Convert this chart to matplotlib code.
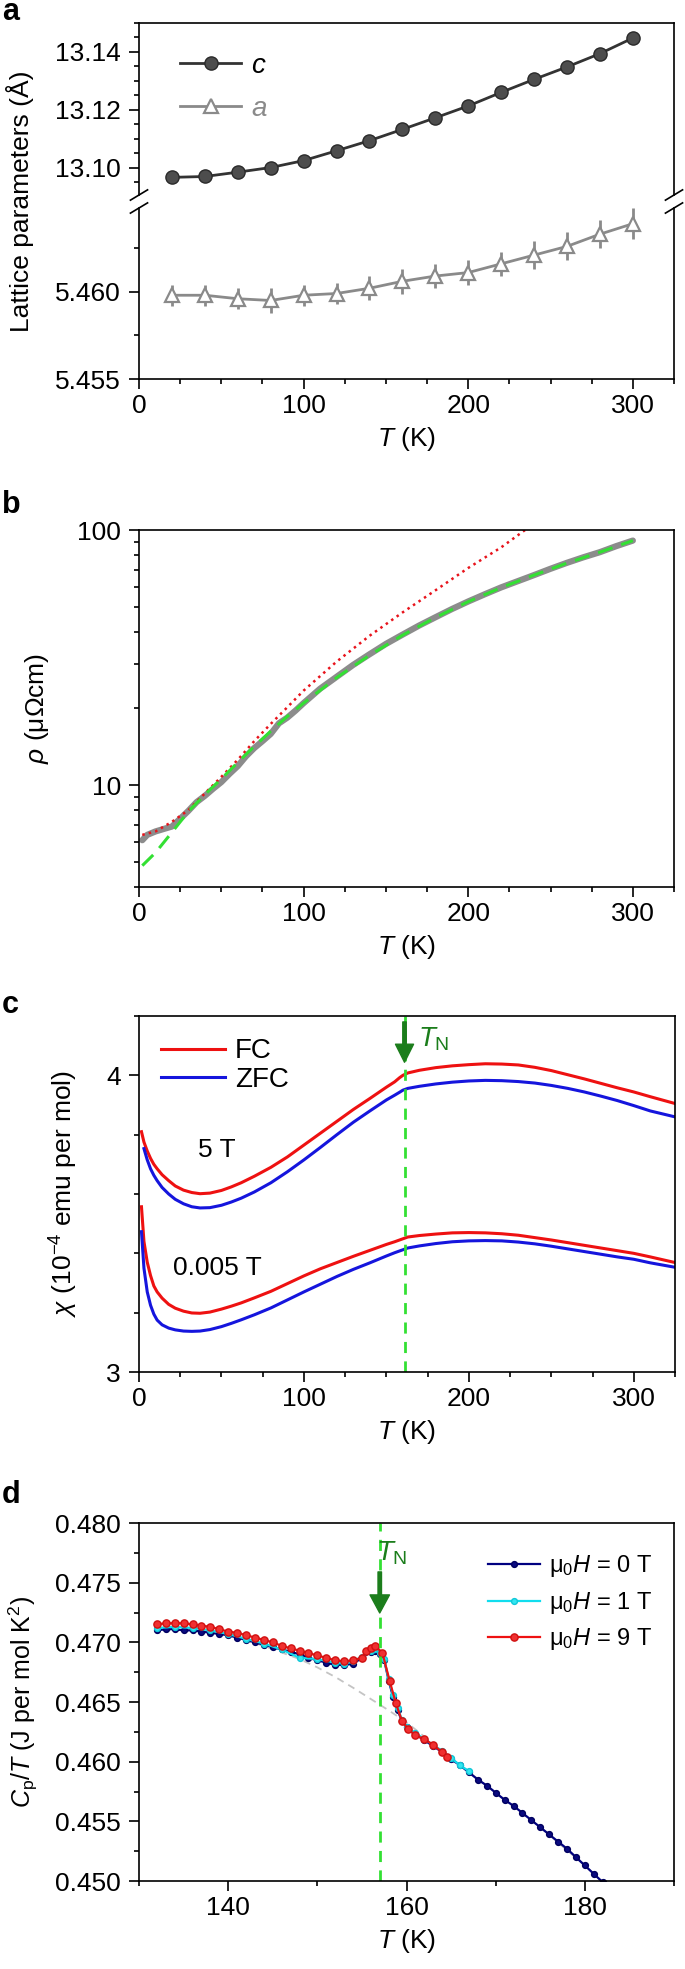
import matplotlib
matplotlib.use('Agg')
import matplotlib.pyplot as plt
from matplotlib.ticker import MultipleLocator, FixedLocator, NullFormatter, LogLocator
import numpy as np

plt.rcParams['font.family'] = ['Liberation Sans', 'DejaVu Sans']
plt.rcParams['mathtext.fontset'] = 'custom'
plt.rcParams['mathtext.rm'] = 'Liberation Sans'
plt.rcParams['mathtext.it'] = 'Liberation Sans:italic'
plt.rcParams['mathtext.bf'] = 'Liberation Sans:bold'
plt.rcParams['font.size'] = 19
plt.rcParams['axes.linewidth'] = 1.2

# ---- panel a: lattice parameters ----
T_lat = [20, 40, 60, 80, 100, 120, 140, 160, 180, 200, 220, 240, 260, 280, 300]
c_lat = [13.0966, 13.0969, 13.0984, 13.1000, 13.1024, 13.1058, 13.1093, 13.1132,
         13.1172, 13.1213, 13.1260, 13.1305, 13.1348, 13.1394, 13.1448]
a_lat = [5.4598, 5.4598, 5.4596, 5.4595, 5.4598, 5.4599, 5.4602, 5.4606,
         5.4609, 5.4611, 5.4616, 5.4621, 5.4626, 5.4633, 5.4639]
a_err = [0.0006, 0.0006, 0.0006, 0.0007, 0.0006, 0.0006, 0.0007, 0.0007,
         0.0007, 0.0007, 0.0007, 0.0008, 0.0008, 0.0008, 0.0009]

# ---- panel b: resistivity ----
T_rho = [2, 5, 10, 15, 20, 25, 30, 35, 40, 45, 50, 55, 60, 65, 70, 75, 80, 85, 90, 95,
         100, 110, 120, 130, 140, 150, 160, 170, 180, 190, 200, 210, 220, 230, 240,
         250, 260, 270, 280, 290, 300]
rho = [6.1, 6.4, 6.6, 6.75, 6.9, 7.4, 7.95, 8.6, 9.1, 9.7, 10.3, 11.1, 11.9, 13.0, 14.0,
       14.9, 15.9, 17.5, 18.4, 19.6, 21.0, 23.9, 26.6, 29.6, 32.6, 35.8, 38.9, 42.2,
       45.5, 49.0, 52.5, 56.0, 59.6, 63.0, 66.6, 70.5, 74.4, 78.2, 81.9, 86.5, 90.9]
T_fit_g = [2, 10, 20, 30, 40, 50, 60, 70, 80, 90, 100, 120, 140, 160, 180, 200, 220,
           240, 260, 280, 300]
rho_fit_g = [4.85, 5.45, 6.55, 7.9, 9.2, 10.6, 12.3, 14.2, 16.3, 18.6, 21.0, 26.4, 32.3,
             38.7, 45.4, 52.4, 59.5, 66.6, 74.2, 81.9, 90.9]
T_fit_r = [2, 10, 20, 30, 40, 50, 60, 70, 80, 90, 100, 120, 140, 160, 180, 200, 220, 235]
rho_fit_r = [6.4, 6.6, 7.2, 8.0, 9.3, 10.8, 12.6, 14.9, 17.4, 20.2, 23.5, 30.5, 38.5,
             47.5, 58.0, 71.0, 85.5, 100.5]

# ---- panel c: susceptibility ----
T_chi = [1.5, 3, 5, 7, 9, 11, 14, 18, 22, 27, 32, 37, 43, 50, 56, 62, 70, 80, 90, 100,
         110, 120, 130, 140, 150, 155, 158, 160, 163, 170, 180, 190, 200, 210, 220, 230,
         240, 250, 260, 270, 280, 290, 300, 310, 325]
chi_5T_fc = [3.81, 3.775, 3.745, 3.72, 3.70, 3.685, 3.665, 3.645, 3.627, 3.613, 3.605,
             3.601, 3.603, 3.612, 3.624, 3.638, 3.66, 3.69, 3.725, 3.765, 3.805, 3.845,
             3.885, 3.922, 3.96, 3.978, 3.992, 4.0, 4.008, 4.017, 4.026, 4.032, 4.036,
             4.039, 4.038, 4.035, 4.027, 4.016, 4.002, 3.988, 3.973, 3.958, 3.944, 3.928,
             3.905]
chi_5T_zfc = [None, 3.753, 3.715, 3.685, 3.663, 3.645, 3.622, 3.60, 3.582, 3.567, 3.557,
              3.553, 3.554, 3.562, 3.573, 3.586, 3.607, 3.638, 3.675, 3.715, 3.757, 3.80,
              3.842, 3.88, 3.917, 3.933, 3.943, 3.95, 3.956, 3.963, 3.971, 3.977, 3.981,
              3.983, 3.982, 3.979, 3.974, 3.966, 3.956, 3.944, 3.93, 3.915, 3.898, 3.88,
              3.86]
chi_0T_fc = [3.557, 3.44, 3.37, 3.325, 3.29, 3.27, 3.249, 3.228, 3.215, 3.205, 3.199,
             3.198, 3.202, 3.212, 3.222, 3.233, 3.25, 3.272, 3.298, 3.324, 3.348, 3.369,
             3.39, 3.41, 3.43, 3.439, 3.445, 3.449, 3.455, 3.46, 3.465, 3.469, 3.47,
             3.469, 3.466, 3.461, 3.453, 3.445, 3.436, 3.427, 3.418, 3.409, 3.40, 3.388,
             3.369]
chi_0T_zfc = [3.473, 3.35, 3.27, 3.225, 3.195, 3.175, 3.159, 3.148, 3.142, 3.138, 3.137,
              3.138, 3.143, 3.153, 3.164, 3.176, 3.193, 3.216, 3.243, 3.27, 3.296, 3.322,
              3.346, 3.368, 3.391, 3.402, 3.408, 3.412, 3.418, 3.425, 3.433, 3.439, 3.442,
              3.443, 3.442, 3.438, 3.432, 3.424, 3.415, 3.406, 3.397, 3.388, 3.38, 3.368,
              3.353]
T_N_chi = 161

# ---- panel d: specific heat ----
T_h0 = [132, 133, 134, 135, 136, 137, 138, 139, 140, 141, 142, 143, 144, 145, 146, 147,
        148, 149, 150, 151, 152, 153, 154, 155, 156, 156.5, 157, 157.5, 158, 158.5, 159,
        159.5, 160, 161, 162, 163, 164, 165, 166, 167, 168, 169, 170, 171, 172, 173,
        174, 175, 176, 177, 178, 179, 180, 181, 182]
cp_h0 = [0.4710, 0.4711, 0.4711, 0.4710, 0.4710, 0.4709, 0.4708, 0.4707, 0.4706,
         0.4704, 0.4702, 0.4700, 0.4698, 0.4696, 0.4694, 0.4692, 0.4690, 0.4687,
         0.4685, 0.4683, 0.4681, 0.4681, 0.4682, 0.4687, 0.4692, 0.4693, 0.4690,
         0.4685, 0.4668, 0.4654, 0.4643, 0.4634, 0.4629, 0.4623, 0.4618, 0.4613,
         0.4608, 0.4602, 0.4597, 0.4591, 0.4585, 0.4580, 0.4574, 0.4568, 0.4563,
         0.4557, 0.4551, 0.4545, 0.4539, 0.4533, 0.4527, 0.4520, 0.4513, 0.4506, 0.4499]
T_h1 = [132, 134, 136, 138, 140, 142, 144, 146, 148, 150, 152, 153, 154, 155, 156, 156.5,
        157, 157.5, 158, 158.5, 159, 159.5, 160, 161, 162, 163, 164, 165, 166, 167]
cp_h1 = [0.4712, 0.4713, 0.4712, 0.4710, 0.4707, 0.4703, 0.4699, 0.4694, 0.4687,
         0.4686, 0.4683, 0.4682, 0.4684, 0.4688, 0.4693, 0.4694, 0.4691, 0.4686,
         0.4669, 0.4656, 0.4645, 0.4635, 0.4629, 0.4624, 0.4619, 0.4614, 0.4609,
         0.4603, 0.4597, 0.4592]
T_h9 = [132, 133, 134, 135, 136, 137, 138, 139, 140, 141, 142, 143, 144, 145, 146, 147,
        148, 149, 150, 151, 152, 153, 154, 155, 155.5, 156, 156.5, 157.3, 158.1, 158.8,
        159.5, 160.2, 161, 162, 163, 164, 164.5]
cp_h9 = [0.4715, 0.4716, 0.4716, 0.4716, 0.4715, 0.4714, 0.4713, 0.4711, 0.4709,
         0.4708, 0.4706, 0.4704, 0.4702, 0.4700, 0.4697, 0.4695, 0.4693, 0.4691,
         0.4689, 0.4687, 0.4685, 0.4684, 0.4685, 0.4687, 0.4693, 0.4695, 0.4697,
         0.4691, 0.4668, 0.4649, 0.4634, 0.4627, 0.4622, 0.4619, 0.4614, 0.4608, 0.4604]
T_bg = [132, 136, 140, 144, 148, 150, 152, 154, 156, 158, 160, 162, 166, 170, 175, 180, 182]
cp_bg = [0.4711, 0.4711, 0.4706, 0.4697, 0.4686, 0.4679, 0.4671, 0.4662, 0.46525,
         0.4643, 0.4633, 0.4621, 0.4597, 0.4574, 0.4545, 0.4513, 0.4499]
T_N_cp = 157

W, H = 685, 1969
GREEN_LINE = '#33e033'
GREEN_ARROW = '#1b7d1b'


def box(left, top, right, bottom):
    return [left / W, 1 - bottom / H, (right - left) / W, (bottom - top) / H]


def style(ax):
    ax.tick_params(which='both', direction='out', top=False, right=False, width=1.2)
    ax.tick_params(which='major', length=7)
    ax.tick_params(which='minor', length=3.6)
    ax.tick_params(axis='x', which='major', pad=4)
    ax.tick_params(axis='y', which='major', pad=6)


fig = plt.figure(figsize=(W / 100, H / 100), dpi=100)

# panel a (broken axis)
ax_at = fig.add_axes(box(139, 23, 674, 195))
ax_ab = fig.add_axes(box(139, 208, 674, 379))
lc, = ax_at.plot(T_lat, c_lat, '-o', color='#333333', lw=2, ms=9.5,
                 mfc='#4d4d4d', mec='#2a2a2a', mew=1, label='$c$')
ax_ab.errorbar(T_lat, a_lat, yerr=a_err, fmt='none', ecolor='#8a8a8a', elinewidth=2)
la, = ax_ab.plot(T_lat, a_lat, '-^', color='#8a8a8a', lw=2, ms=10,
                 mfc='white', mec='#8a8a8a', mew=1.6, label='$a$')
for ax in (ax_at, ax_ab):
    style(ax)
    ax.set_xlim(0, 325)
    ax.xaxis.set_major_locator(MultipleLocator(100))
    ax.xaxis.set_minor_locator(MultipleLocator(25))
ax_at.set_ylim(13.0905, 13.15)
ax_at.yaxis.set_major_locator(FixedLocator([13.10, 13.12, 13.14]))
ax_at.yaxis.set_minor_locator(MultipleLocator(0.005))
ax_at.yaxis.set_major_formatter(lambda v, p: '%.2f' % v)
ax_at.spines['bottom'].set_visible(False)
ax_at.tick_params(which='both', bottom=False, labelbottom=False)
ax_ab.set_ylim(5.455, 5.4648)
ax_ab.yaxis.set_major_locator(FixedLocator([5.455, 5.460]))
ax_ab.yaxis.set_minor_locator(MultipleLocator(0.0025))
ax_ab.yaxis.set_major_formatter(lambda v, p: '%.3f' % v)
ax_ab.spines['top'].set_visible(False)
ax_ab.set_xlabel('$T$ (K)', labelpad=5)
# break marks
kw = dict(color='black', lw=1.2, clip_on=False)
for xs in (0, 1):
    ax_at.plot([xs - 0.016, xs + 0.016], [-0.03, 0.03], transform=ax_at.transAxes, **kw)
    ax_ab.plot([xs - 0.016, xs + 0.016], [0.97, 1.03], transform=ax_ab.transAxes, **kw)
leg = ax_at.legend(handles=[lc, la], loc='upper left', bbox_to_anchor=(0.03, 0.97),
                   frameon=False, handlelength=2.2, labelspacing=0.6, handletextpad=0.35,
                   fontsize=20)
leg.get_texts()[1].set_color('#8a8a8a')
fig.text(20 / W, 1 - 201 / H, 'Lattice parameters (Å)', rotation=90, ha='center', va='center')

# panel b
ax_b = fig.add_axes(box(139, 530, 674, 887))
style(ax_b)
ax_b.plot(T_rho, rho, '-', color='#8c8c8c', lw=4.5, solid_capstyle='round')
ax_b.plot(T_fit_r, rho_fit_r, ':', color='#e8131b', lw=1.8)
ax_b.plot(T_fit_g, rho_fit_g, '--', color=GREEN_LINE, lw=2.2, dashes=(5, 3))
ax_b.set_yscale('log')
ax_b.set_ylim(4, 100)
ax_b.set_xlim(0, 325)
ax_b.xaxis.set_major_locator(MultipleLocator(100))
ax_b.xaxis.set_minor_locator(MultipleLocator(25))
ax_b.yaxis.set_major_locator(FixedLocator([10, 100]))
ax_b.yaxis.set_major_formatter(lambda v, p: '%d' % v)
ax_b.yaxis.set_minor_locator(LogLocator(base=10, subs=np.arange(2, 10)))
ax_b.yaxis.set_minor_formatter(NullFormatter())
ax_b.set_xlabel('$T$ (K)', labelpad=5)
ax_b.set_ylabel('$\\rho$ (μΩcm)')
ax_b.yaxis.set_label_coords(-0.165, 0.5)

# panel c
ax_c = fig.add_axes(box(139, 1016, 675, 1372))
style(ax_c)
ax_c.plot(T_chi, chi_5T_fc, color='#ee1111', lw=2.2, label='FC')
ax_c.plot(T_chi[1:], chi_5T_zfc[1:], color='#1515dd', lw=2.2, label='ZFC')
ax_c.plot(T_chi, chi_0T_fc, color='#ee1111', lw=2.2)
ax_c.plot(T_chi, chi_0T_zfc, color='#1515dd', lw=2.2)
ax_c.axvline(T_N_chi, color=GREEN_LINE, lw=2, dashes=(4, 3))
ax_c.annotate('', xy=(T_N_chi, 4.044), xytext=(T_N_chi, 4.18),
              arrowprops=dict(facecolor=GREEN_ARROW, edgecolor=GREEN_ARROW,
                              width=2.5, headwidth=13, headlength=13, shrink=0))
ax_c.text(T_N_chi + 8, 4.12, '$T_{\\mathrm{N}}$', color=GREEN_ARROW, va='center', ha='left',
          fontsize=20)
ax_c.text(47, 3.75, '5 T', ha='center', va='center')
ax_c.text(47.5, 3.35, '0.005 T', ha='center', va='center')
ax_c.set_xlim(0, 325)
ax_c.set_ylim(3, 4.2)
ax_c.xaxis.set_major_locator(MultipleLocator(100))
ax_c.xaxis.set_minor_locator(MultipleLocator(25))
ax_c.yaxis.set_major_locator(FixedLocator([3, 4]))
ax_c.yaxis.set_minor_locator(MultipleLocator(0.2))
ax_c.set_xlabel('$T$ (K)', labelpad=5)
ax_c.set_ylabel('$\\chi$ (10$^{-4}$ emu per mol)')
ax_c.yaxis.set_label_coords(-0.11, 0.5)
ax_c.legend(loc='upper left', bbox_to_anchor=(0.0, 1.0), frameon=False, handlelength=2.3,
            labelspacing=0.1, handletextpad=0.35, fontsize=20,
            borderaxespad=0.4)

# panel d
ax_d = fig.add_axes(box(139, 1523, 674, 1881))
style(ax_d)
ax_d.plot(T_bg, cp_bg, color='#c4c4c4', lw=1.3, dashes=(4, 3))
ax_d.plot(T_h0, cp_h0, '-o', color='#000080', lw=1.6, ms=4.2, mfc='#0a0a80', mec='#000060',
          label='$\\mathrm{\\mu}_0H$ = 0 T')
ax_d.plot(T_h1, cp_h1, '-o', color='#11ddee', lw=1.6, ms=4.2, mfc='#33e6f0', mec='#10c8d8',
          label='$\\mathrm{\\mu}_0H$ = 1 T')
ax_d.plot(T_h9, cp_h9, '-o', color='#ee1111', lw=1.6, ms=5.2, mfc='#f03030', mec='#d01010',
          label='$\\mathrm{\\mu}_0H$ = 9 T')
ax_d.axvline(T_N_cp, color=GREEN_LINE, lw=2, dashes=(4, 3))
ax_d.annotate('', xy=(T_N_cp, 0.47246), xytext=(T_N_cp, 0.4759),
              arrowprops=dict(facecolor=GREEN_ARROW, edgecolor=GREEN_ARROW,
                              width=2.5, headwidth=14, headlength=13, shrink=0))
ax_d.text(T_N_cp + 1.3, 0.4775, '$T_{\\mathrm{N}}$', color=GREEN_ARROW, va='center',
          ha='center', fontsize=20)
ax_d.set_xlim(130, 190)
ax_d.set_ylim(0.45, 0.48)
ax_d.xaxis.set_major_locator(MultipleLocator(20))
ax_d.xaxis.set_minor_locator(MultipleLocator(10))
ax_d.yaxis.set_major_locator(MultipleLocator(0.005))
ax_d.yaxis.set_minor_locator(MultipleLocator(0.0025))
ax_d.yaxis.set_major_formatter(lambda v, p: '%.3f' % v)
ax_d.set_xlabel('$T$ (K)', labelpad=5)
ax_d.set_ylabel('$C_{\\mathrm{p}}/T$ (J per mol K$^2$)', fontsize=18)
ax_d.yaxis.set_label_coords(-0.185, 0.5)
ax_d.legend(loc='upper right', bbox_to_anchor=(1.0, 0.975), frameon=False, handlelength=2.2,
            labelspacing=0.45, handletextpad=0.4, fontsize=17)

for lbl, y in (('a', 12), ('b', 505), ('c', 1005), ('d', 1495)):
    fig.text(2 / W, 1 - y / H, lbl, fontweight='bold', fontsize=22, ha='left', va='center')

fig.savefig('out.png', dpi=100)
